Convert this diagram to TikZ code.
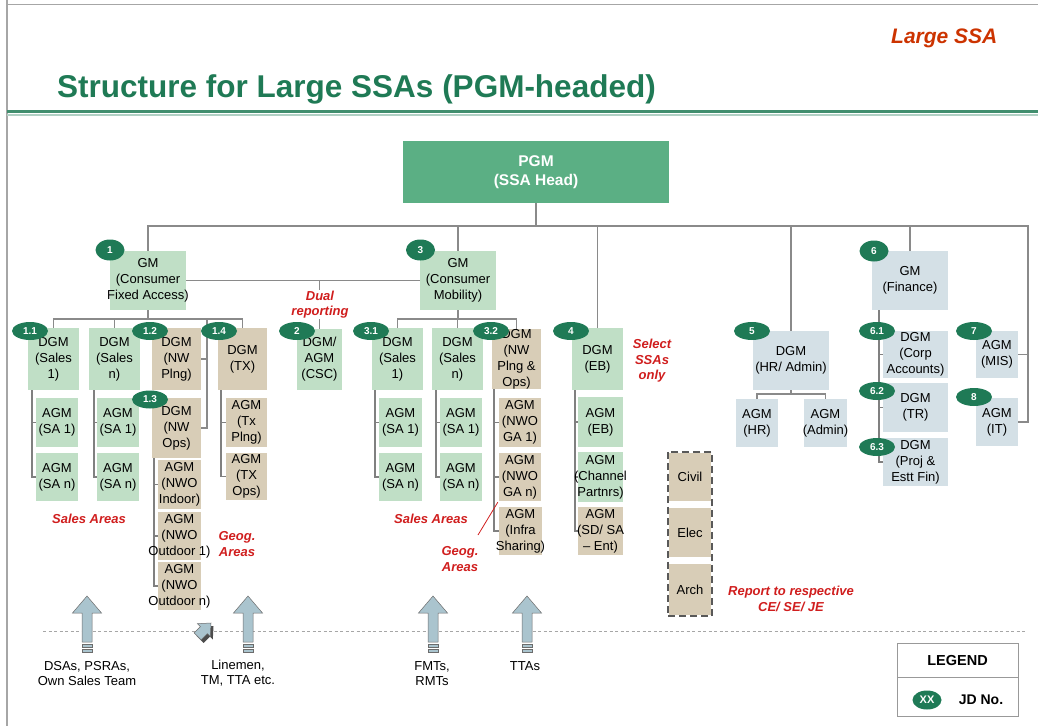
\documentclass[tikz,border=0pt]{standalone}
\usepackage{fontspec}
\setmainfont{Liberation Sans}
\usetikzlibrary{shapes.geometric}
\pgfdeclarelayer{bg}
\pgfsetlayers{bg,main}
\definecolor{lgreen}{HTML}{C0DFC6}
\definecolor{beige}{HTML}{D8CDB7}
\definecolor{lblue}{HTML}{D4E0E6}
\definecolor{pgmgreen}{HTML}{5BAF84}
\definecolor{badgegreen}{HTML}{1F7A56}
\definecolor{titlegreen}{HTML}{1F7A55}
\definecolor{labred}{HTML}{D01E1E}
\definecolor{hdred}{HTML}{CC3300}
\definecolor{arrfill}{HTML}{AAC4CE}
\definecolor{linegray}{HTML}{8A8A8A}
\newcommand\obox[7]{%
  \node[#1, minimum width={#5-#3}, minimum height={#6-#4}] (#2) at ({(#3+#5)/2},{(#4+#6)/2}) {};
  \node[txt] (#2-t) at (#2.center) {#7};}
\newcommand\ovl[1]{\makebox[0pt][c]{#1}}
\newcommand\jd[4]{\node[#4] (#1) at (#3) {#2};}
\begin{document}
\begin{tikzpicture}[x=1pt,y=-1pt,
  txt/.style={font=\fontsize{13}{16}\selectfont, align=center, inner sep=0pt, text=black},
  gb/.style={fill=lgreen, inner sep=0pt},
  bb/.style={fill=beige, inner sep=0pt},
  lb/.style={fill=lblue, inner sep=0pt},
  jdS/.style={ellipse, fill=badgegreen, text=white, font=\fontsize{10}{12}\selectfont\bfseries, inner sep=0pt, minimum width=29pt, minimum height=21pt},
  jdL/.style={jdS, minimum width=36pt, minimum height=18pt},
  conn/.style={draw=linegray, line width=1.1pt},
  conn2/.style={draw=gray, line width=1.5pt},
  rl/.style={text=labred, font=\fontsize{13}{15.5}\selectfont\bfseries\itshape, align=center, inner sep=0pt},
  blab/.style={font=\fontsize{13}{15}\selectfont, align=center, inner sep=0pt},
  arrsty/.style={fill=arrfill, draw=gray!85!black, line width=0.5pt},
  uparr/.pic={
    \path[arrsty] (0,0) -- (14.5,17) -- (5,17) -- (5,46) -- (-5,46) -- (-5,17) -- (-14.5,17) -- cycle;
    \path[arrsty] (-5,48) rectangle (5,51);
    \path[arrsty] (-5,53) rectangle (5,56);
  }]
\useasboundingbox (0,0) rectangle (1038,726);
% frame and header
\draw[gray!70, line width=1.5pt] (7,0) -- (7,726);
\draw[gray!70, line width=1pt] (7,4) -- (1038,4);
\node[anchor=base west, text=hdred, font=\fontsize{21}{24}\selectfont\bfseries\itshape, inner sep=0pt] (hd) at (891,43) {Large SSA};
\node[anchor=base west, text=titlegreen, font=\fontsize{31.5}{36}\selectfont\bfseries, inner sep=0pt] (title) at (57,97) {Structure for Large SSAs (PGM-headed)};
\draw[titlegreen!85, line width=3pt] (7,111) -- (1038,111);
\draw[titlegreen!35, line width=2pt] (7,114.5) -- (1038,114.5);

% PGM
\node[fill=pgmgreen, minimum width=266, minimum height=62, inner sep=0pt, text=white, font=\fontsize{15.5}{19}\selectfont\bfseries, align=center] (pgm) at (536,172) {PGM\\(SSA Head)};

% GM level
\obox{gb}{gm1}{110}{251}{186}{310}{GM\\(Consumer\\\ovl{Fixed Access)}}
\obox{gb}{gm3}{420}{251}{496}{310}{GM\\(Consumer\\Mobility)}
\obox{lb}{fin}{872}{251}{948}{310}{GM\\(Finance)}
\obox{gb}{csc}{297}{329}{342}{390}{DGM/\\AGM\\(CSC)}

% GM1 subtree
\obox{gb}{s11}{28}{328}{79}{390}{DGM\\(Sales\\1)}
\obox{gb}{s1n}{89}{328}{140}{390}{DGM\\(Sales\\n)}
\obox{bb}{nwp}{152}{328}{201}{390}{DGM\\(NW\\Plng)}
\obox{bb}{tx}{218}{328}{267}{390}{DGM\\(TX)}
\obox{bb}{nwo}{152}{398}{201}{458}{DGM\\(NW\\Ops)}
\obox{gb}{a11a}{36}{398}{78}{447}{AGM\\(SA 1)}
\obox{gb}{a11b}{36}{453}{78}{501}{AGM\\(SA n)}
\obox{gb}{a1na}{97}{398}{139}{447}{AGM\\(SA 1)}
\obox{gb}{a1nb}{97}{453}{139}{501}{AGM\\(SA n)}
\obox{bb}{nwoa}{158}{460}{201}{509}{AGM\\(NWO\\\ovl{Indoor)}}
\obox{bb}{nwob}{158}{512}{201}{560}{AGM\\(NWO\\\ovl{Outdoor 1)}}
\obox{bb}{nwoc}{158}{562}{201}{610}{AGM\\(NWO\\\ovl{Outdoor n)}}
\obox{bb}{txa}{226}{398}{267}{447}{AGM\\(Tx\\Plng)}
\obox{bb}{txb}{226}{453}{267}{500}{AGM\\(TX\\Ops)}

% GM3 subtree
\obox{gb}{s31}{372}{328}{423}{390}{DGM\\(Sales\\1)}
\obox{gb}{s3n}{432}{328}{483}{390}{DGM\\(Sales\\n)}
\obox{bb}{nw3}{492}{329}{541}{389}{DGM\\(NW\\Plng \&\\Ops)}
\obox{gb}{a31a}{379}{398}{422}{447}{AGM\\(SA 1)}
\obox{gb}{a31b}{379}{453}{422}{501}{AGM\\(SA n)}
\obox{gb}{a3na}{440}{398}{482}{447}{AGM\\(SA 1)}
\obox{gb}{a3nb}{440}{453}{482}{501}{AGM\\(SA n)}
\obox{bb}{g1}{499}{398}{541}{447}{AGM\\(NWO\\GA 1)}
\obox{bb}{g2}{499}{453}{541}{501}{AGM\\(NWO\\GA n)}
\obox{bb}{g3}{499}{507}{542}{555}{AGM\\(Infra\\\ovl{Sharing)}}

% EB
\obox{gb}{eb}{572}{328}{623}{390}{DGM\\(EB)}
\obox{gb}{eb1}{578}{397}{623}{447}{AGM\\(EB)}
\obox{gb}{eb2}{578}{452}{623}{502}{AGM\\\ovl{(Channel}\\\ovl{Partnrs)}}
\obox{bb}{eb3}{578}{507}{623}{555}{AGM\\\ovl{(SD/ SA}\\– Ent)}

% Civil / Elec / Arch
\obox{bb}{civil}{669}{453}{711}{501}{Civil}
\obox{bb}{elec}{669}{508}{711}{557}{Elec}
\obox{bb}{arch}{669}{564}{711}{615}{Arch}
\draw[draw=black!65, line width=2.2pt, dash pattern=on 7pt off 4pt] ([shift={(-1,-1)}]civil.north west) rectangle ([shift={(1,1)}]arch.south east);

% HR / Finance
\obox{lb}{hr}{753}{331}{829}{390}{DGM\\(HR/ Admin)}
\obox{lb}{ahr}{736}{399}{778}{447}{AGM\\(HR)}
\obox{lb}{aad}{804}{399}{847}{447}{AGM\\\ovl{(Admin)}}
\obox{lb}{fc}{883}{331}{948}{378}{DGM\\(Corp\\Accounts)}
\obox{lb}{ftr}{883}{383}{948}{432}{DGM\\(TR)}
\obox{lb}{fpe}{883}{438}{948}{486}{DGM\\(Proj \&\\Estt Fin)}
\obox{lb}{mis}{976}{331}{1018}{378}{AGM\\(MIS)}
\obox{lb}{it}{976}{398}{1018}{446}{AGM\\(IT)}

% badges
\jd{j1}{1}{110,250}{jdS}
\jd{j11}{1.1}{30,331}{jdL}
\jd{j12}{1.2}{150,331}{jdL}
\jd{j13}{1.3}{150,399.5}{jdL}
\jd{j14}{1.4}{219,331}{jdL}
\jd{j2}{2}{297,331}{jdL}
\jd{j3}{3}{420.5,250}{jdS}
\jd{j31}{3.1}{371,331}{jdL}
\jd{j32}{3.2}{491,331}{jdL}
\jd{j4}{4}{571,331}{jdL}
\jd{j5}{5}{752,331}{jdL}
\jd{j6}{6}{874,251}{jdS}
\jd{j61}{6.1}{877,331}{jdL}
\jd{j62}{6.2}{877,391}{jdL}
\jd{j63}{6.3}{877,447}{jdL}
\jd{j7}{7}{974,331}{jdL}
\jd{j8}{8}{974,397}{jdL}

% red labels
\node[rl, fill=white, inner sep=1pt] (dual) at (320,304.5) {Dual\\reporting};
\node[rl] (sa1) at (89,519) {Sales Areas};
\node[rl] (sa3) at (431,519) {Sales Areas};
\node[rl] (geo1) at (237,544) {Geog.\\Areas};
\node[rl] (geo3) at (460,559) {Geog.\\Areas};
\node[rl] (sel) at (652,361) {Select\\SSAs\\only};
\node[rl] (rep) at (791,599) {Report to respective\\CE/ SE/ JE};
\coordinate (geotip) at (478,535);
\draw[labred, line width=0.8pt] ([shift={(-1,1)}]g2.south west) -- (geotip);

% connectors
\begin{pgfonlayer}{bg}
\coordinate (rt) at (1028,226);
\draw[conn] (pgm.south) -- (pgm.south |- rt);
\draw[conn] (gm1.north) |- (rt) |- (it.east);
\draw[conn] (mis.east) -- (mis.east -| rt);
\draw[conn] (gm3.north) -- (gm3.north |- rt);
\draw[conn] (eb.north) -- (eb.north |- rt);
\draw[conn] (hr.north) -- (hr.north |- rt);
\draw[conn] (fin.north) -- (fin.north |- rt);
\draw[conn] (gm1.east) -- (gm3.west);
\draw[conn] (csc.north) -- (csc.north |- gm1.east);
% GM1
\coordinate (b1) at (148,319);
\draw[conn] (gm1.south) -- (b1);
\draw[conn] (s11.north) |- (b1) -| (tx.north);
\draw[conn] (s1n.north) -- (s1n.north |- b1);
\coordinate (nwb) at (207,319);
\draw[conn] (nwp.east) -| (nwb);
\draw[conn] (nwo.east) -| (nwb);
\draw[conn2] ([xshift=4pt]s11.south west) |- (a11a.west);
\draw[conn2] ([xshift=4pt]s11.south west) |- (a11b.west);
\draw[conn2] ([xshift=5pt]s1n.south west) |- (a1na.west);
\draw[conn2] ([xshift=5pt]s1n.south west) |- (a1nb.west);
\draw[conn2] ([xshift=2pt]nwo.south west) |- (nwoa.west);
\draw[conn2] ([xshift=2pt]nwo.south west) |- (nwob.west);
\draw[conn2] ([xshift=2pt]nwo.south west) |- (nwoc.west);
\draw[conn2] ([xshift=3pt]tx.south west) |- (txa.west);
\draw[conn2] ([xshift=3pt]tx.south west) |- (txb.west);
% GM3
\coordinate (b3) at (458,319);
\draw[conn] (gm3.south) -- (b3);
\draw[conn] (s31.north) |- (b3) -| (nw3.north);
\draw[conn] (s3n.north) -- (s3n.north |- b3);
\draw[conn2] ([xshift=3pt]s31.south west) |- (a31a.west);
\draw[conn2] ([xshift=3pt]s31.south west) |- (a31b.west);
\draw[conn2] ([xshift=4pt]s3n.south west) |- (a3na.west);
\draw[conn2] ([xshift=4pt]s3n.south west) |- (a3nb.west);
\draw[conn2] ([xshift=2pt]nw3.south west) |- (g1.west);
\draw[conn2] ([xshift=2pt]nw3.south west) |- (g2.west);
\draw[conn2] ([xshift=2pt]nw3.south west) |- (g3.west);
% EB
\draw[conn2] ([xshift=3pt]eb.south west) |- (eb1.west);
\draw[conn2] ([xshift=3pt]eb.south west) |- (eb2.west);
\draw[conn2] ([xshift=3pt]eb.south west) |- (eb3.west);
% HR
\coordinate (bh) at (791,394);
\draw[conn] (hr.south) -- (bh);
\draw[conn] (ahr.north) |- (bh) -| (aad.north);
% Finance
\draw[conn2] ([xshift=7pt]fin.south west) |- (fc.west);
\draw[conn2] ([xshift=7pt]fin.south west) |- (ftr.west);
\draw[conn2] ([xshift=7pt]fin.south west) |- (fpe.west);
\end{pgfonlayer}

% bottom section
\draw[gray!70, line width=0.9pt, dash pattern=on 3pt off 2.5pt] (43,631) -- (1025,631);
\pic at (87,596) {uparr};
\pic at (248,596) {uparr};
\pic at (433,596) {uparr};
\pic at (527,596) {uparr};
% tilted small arrow
\fill[gray!60!black] (213.5,626) -- (212.8,639.5) -- (209.9,636.6) -- (203.6,642.9) -- (196.6,635.9) -- (202.9,629.6) -- (200,626.7) -- cycle;
\path[arrsty] (211,623) -- (210.3,636.5) -- (207.4,633.6) -- (201.1,639.9) -- (194.1,632.9) -- (200.4,626.6) -- (197.5,623.7) -- cycle;
\node[blab] (l1) at (87,673.5) {DSAs, PSRAs,\\Own Sales Team};
\node[blab] (l2) at (238,673.5) {Linemen,\\TM, TTA etc.};
\node[blab] (l3) at (432,673.5) {FMTs,\\RMTs};
\node[blab] (l4) at (525,666) {TTAs};

% legend
\node[draw=gray!80, line width=1pt, minimum width=121, minimum height=73, inner sep=0pt] (leg) at (957.5,679.5) {};
\draw[gray!80, line width=1pt] (897,677) -- (1018,677);
\node[font=\fontsize{14.5}{17}\selectfont\bfseries, inner sep=0pt] (legt) at (957.5,660) {LEGEND};
\node[jdS, minimum width=29pt, minimum height=19pt, font=\fontsize{11}{13}\selectfont\bfseries] (jx) at (927,700) {XX};
\node[font=\fontsize{14}{17}\selectfont\bfseries, inner sep=0pt] (jdn) at (981,700) {JD No.};
\end{tikzpicture}
\end{document}
